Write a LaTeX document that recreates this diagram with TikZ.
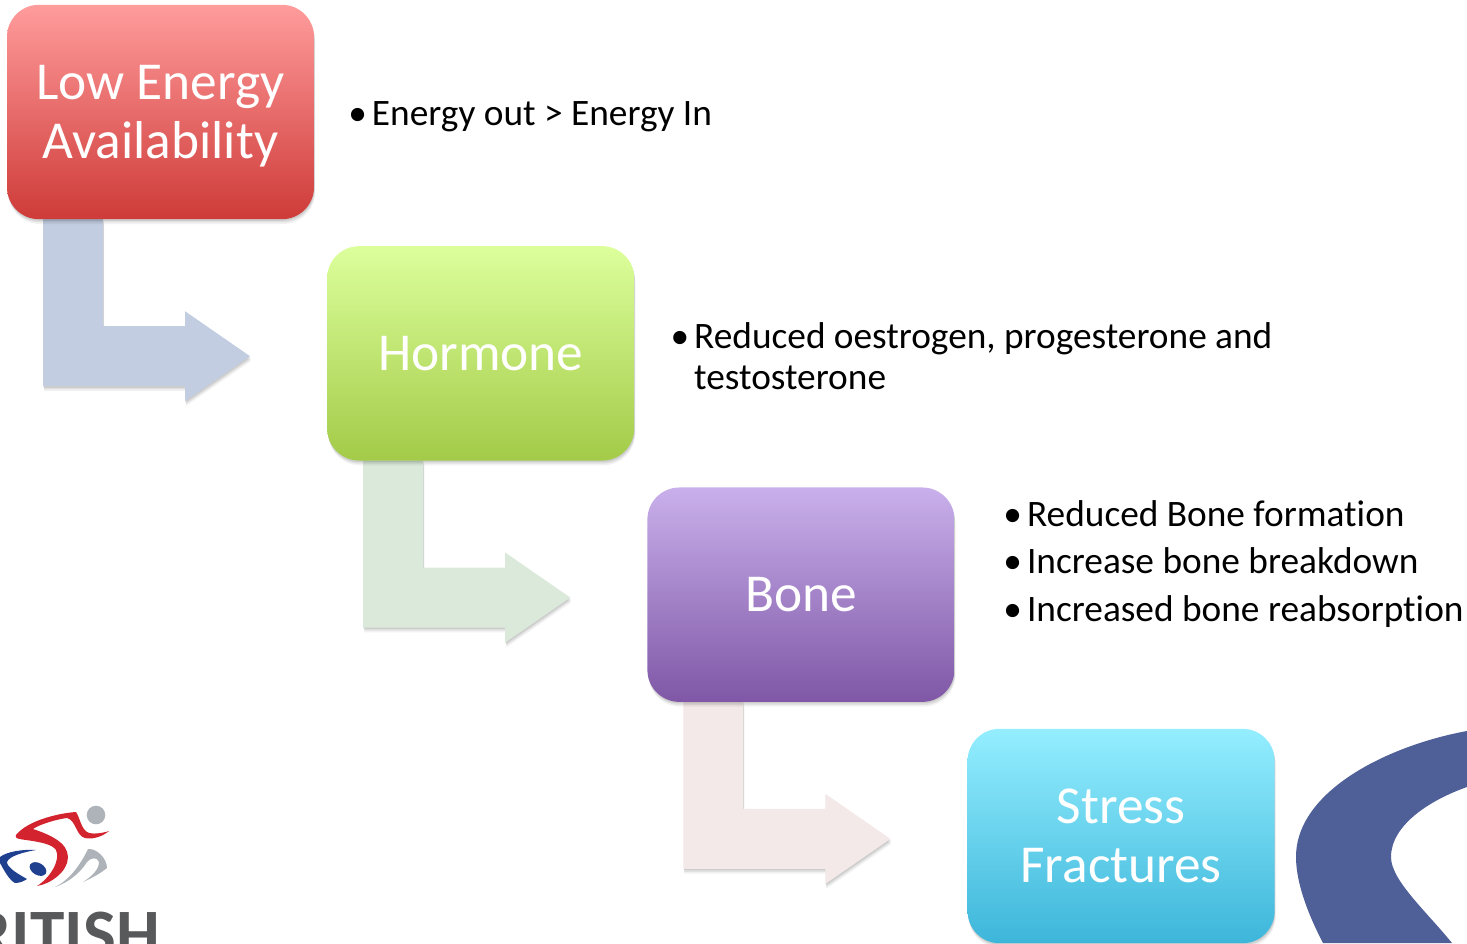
\documentclass[tikz,border=0pt]{standalone}
\usepackage{fontspec}
\setmainfont[Ligatures=NoCommon]{Carlito}
\usepackage{xcolor}
\usetikzlibrary{arrows.meta,positioning,calc,shadows,backgrounds}
\definecolor{swooshblue}{HTML}{4F5F97}
\definecolor{logored}{HTML}{D2232E}
\definecolor{logoblue}{HTML}{1F3F8F}
\definecolor{logogrey}{HTML}{ADB3B8}
\definecolor{logotext}{HTML}{58595B}
\definecolor{arrowblue}{HTML}{C2CDE1}
\definecolor{arrowgreen}{HTML}{DAE9D9}
\definecolor{arrowrose}{HTML}{F3E9E8}
\definecolor{redtop}{HTML}{FF9C9C}
\definecolor{redbottom}{HTML}{CE3B38}
\definecolor{greentop}{HTML}{DCFF9C}
\definecolor{greenbottom}{HTML}{A3CB48}
\definecolor{violettop}{HTML}{C9B0EB}
\definecolor{violetbottom}{HTML}{7F57A6}
\definecolor{cyantop}{HTML}{94EEFF}
\definecolor{cyanbottom}{HTML}{3DB6DA}
\newcommand{\noteitem}[1]{\par\spaceskip=0pt\xspaceskip=0pt\hangindent=16.5pt\hangafter=1\noindent\makebox[16.5pt][l]{\kern-1.2pt•}#1\par}

\begin{document}
\begin{tikzpicture}[x=0.75pt,y=-0.75pt,node distance=20.2pt and 9.9pt]
  \tikzstyle{softshadow}=[general shadow={shadow xshift=0.4pt,shadow yshift=-1.2pt,fill=black,opacity=0.09},
    general shadow={shadow xshift=0.6pt,shadow yshift=-2.4pt,fill=black,opacity=0.07},
    general shadow={shadow xshift=0.8pt,shadow yshift=-3.6pt,fill=black,opacity=0.05}]
  \tikzstyle{stage}=[softshadow,rounded corners=24pt,align=center,minimum width=230.25pt,minimum height=160.8pt,
    outer sep=0pt,text=white,font=\fontsize{40}{44.4}\selectfont]
  \tikzstyle{note}=[inner sep=0pt,outer sep=0pt,text width=345pt,align=left,font=\fontsize{28}{30.8}\selectfont]
  \useasboundingbox (0,0) rectangle (1467,943);
  % the four stages
  \node[stage,text depth=0pt,top color=redtop,bottom color=redbottom] (energy) at (160.5,112) {Low Energy\\Availability};
  \node[stage,top color=greentop,bottom color=greenbottom,below right=of energy] (hormone) {Hormone};
  \node[stage,top color=violettop,bottom color=violetbottom,below right=of hormone] (bone) {Bone};
  \node[stage,top color=cyantop,bottom color=cyanbottom,below right=of bone] (stress) {Stress\\Fractures};
  % notes
  \node[note,right=27pt of energy,yshift=3pt] (noteenergy) {\noteitem{Energy out > Energy In}};
  \node[note,text width=450pt,right=28.5pt of hormone,yshift=3.6pt] (notehormone) {\noteitem{Reduced oestrogen, progesterone and\newline testosterone}};
  \node[note,right=38pt of bone,yshift=31pt] (notebone) {\setlength{\parskip}{4.6pt}\noteitem{Reduced Bone formation}\noteitem{Increase bone breakdown}\noteitem{Increased bone reabsorption}};
  % bent arrows
  \begin{pgfonlayer}{background}
    \foreach \a/\c in {energy/arrowblue,hormone/arrowgreen,bone/arrowrose}
      \fill[\c,softshadow,shift={(\a.south west)}] (36,0) -- (96,0) -- (96,107) -- (178,107) -- (178,92)
        -- (243,137) -- (178,182) -- (178,167) -- (36,167) -- cycle;
  \end{pgfonlayer}
  % corner graphics
  \begin{scope}
    \clip (0,0) rectangle (1467,943);
    \fill[swooshblue] (1467,731) .. controls (1390,745) and (1296,790) .. (1296,857)
      .. controls (1296,885) and (1310,918) .. (1323,943) -- (1452,943)
      .. controls (1425,910) and (1391,880) .. (1391,857) .. controls (1391,825) and (1430,800) .. (1467,787) -- cycle;
    \fill[logored] (109,831) .. controls (103,833) and (92,835) .. (87,832) .. controls (81,828) and (80,818) .. (76,812)
      .. controls (60,813) and (28,820) .. (16,835) .. controls (14,839) and (20,839) .. (26,840)
      .. controls (40,842) and (52,844) .. (56,850) .. controls (61,860) and (50,878) .. (37,886)
      .. controls (50,884) and (68,872) .. (68,857) .. controls (68,842) and (48,834) .. (33,829)
      .. controls (40,824) and (58,819) .. (67,818) .. controls (76,820) and (76,836) .. (85,838)
      .. controls (93,840) and (103,836) .. (109,831) -- cycle;
    \fill[logoblue] (36,850) .. controls (22,849) and (6,852) .. (0,857) -- (0,863) .. controls (4,870) and (9,880) .. (15,883)
      .. controls (20,883) and (24,881) .. (27,879) .. controls (20,875) and (7,868) .. (7,862)
      .. controls (9,856) and (24,852) .. (36,850) -- cycle;
    \fill[logoblue,rotate around={-30:(38,869)}] (38,869) ellipse (9 and 6);
    \fill[logogrey] (55,887) .. controls (68,881) and (80,866) .. (88,849) .. controls (96,848) and (107,858) .. (107,868)
      .. controls (101,873) and (92,878) .. (83,882) .. controls (91,877) and (99,870) .. (99,862)
      .. controls (97,857) and (92,857) .. (87,862) .. controls (82,870) and (72,881) .. (55,887) -- cycle;
    \fill[logogrey] (96,815) circle (9.3);
    \node[anchor=base east,inner sep=0pt,text=logotext,font=\fontsize{52}{52}\selectfont\bfseries] (logoname) at (160,957) {RITISH};
  \end{scope}
\end{tikzpicture}
\end{document}
